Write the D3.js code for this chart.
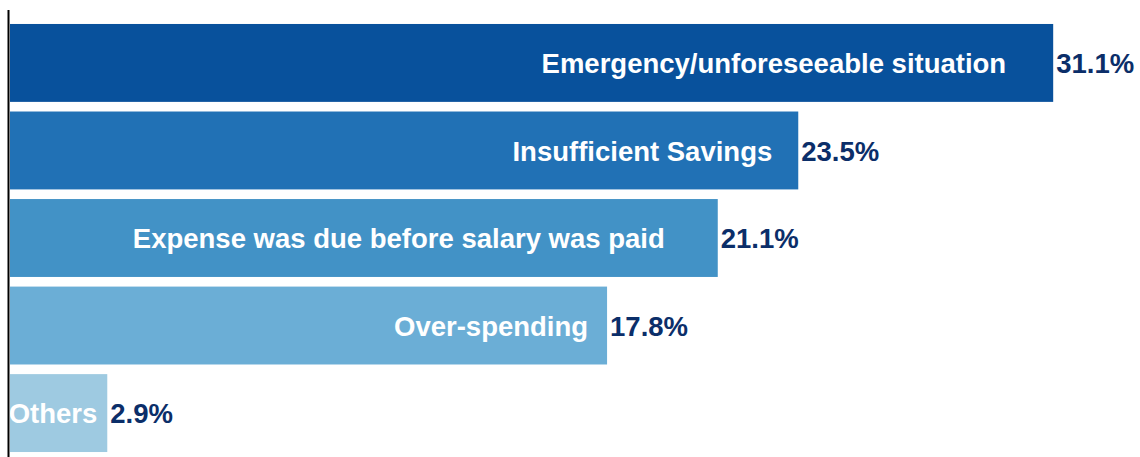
<!DOCTYPE html>
<html>
<head>
<meta charset="utf-8">
<script src="https://cdn.jsdelivr.net/npm/d3@7"></script>
<style>
  body { margin: 0; background: #fff; }
  svg text { font-family: "Liberation Sans", Arial, sans-serif; font-weight: bold; }
</style>
</head>
<body>
<div id="chart"></div>
<script>
// reasons, share of respondents (%)
const reasons = [
    "Emergency/unforeseeable situation",
    "Insufficient Savings",
    "Expense was due before salary was paid",
    "Over-spending",
    "Others"
];
const shares = [31.1, 23.5, 21.1, 17.8, 2.9];
const barColors = ["#08519c", "#2171b5", "#4292c6", "#6baed6", "#9ecae1"];
// how far each inside label sits from the bar's end
const labelInset = [47, 26, 53, 19, 10];

function drawBars() {
    let width = 1140, height = 457;
    let margin = {top: 19.6, right: 10, bottom: 0.6, left: 10};

    let svg = d3.select("#chart").append("svg")
        .attr("width", width)
        .attr("height", height);

    let x = d3.scaleLinear()
        .domain([0, 33.39])
        .range([margin.left, width - margin.right]);

    let y = d3.scaleBand()
        .domain(reasons)
        .range([margin.top, height - margin.bottom])
        .paddingInner(0.11)
        .paddingOuter(0.05);

    let data = reasons.map(function(r, i) {
        return {name: r, value: shares[i], color: barColors[i], inset: labelInset[i]};
    });

    let rows = svg.selectAll(".bar")
        .data(data)
        .enter().append("g")
        .attr("class", "bar");

    rows.append("rect")
        .attr("x", x(0))
        .attr("y", function(d) { return y(d.name); })
        .attr("width", function(d) { return x(d.value) - x(0); })
        .attr("height", y.bandwidth())
        .style("fill", function(d) { return d.color; });

    rows.append("text")
        .attr("x", function(d) { return x(d.value) - d.inset; })
        .attr("y", function(d) { return y(d.name) + y.bandwidth() / 2; })
        .attr("dy", "0.37em")
        .style("text-anchor", "end")
        .style("font-size", "27.5px")
        .style("fill", "#ffffff")
        .text(function(d) { return d.name; });

    rows.append("text")
        .attr("x", function(d) { return x(d.value) + 3; })
        .attr("y", function(d) { return y(d.name) + y.bandwidth() / 2; })
        .attr("dy", "0.37em")
        .style("font-size", "27.5px")
        .style("fill", "#0b2e69")
        .text(function(d) { return d3.format(".1f")(d.value) + "%"; });

    // vertical axis line
    svg.append("line")
        .attr("x1", 8.5).attr("x2", 8.5)
        .attr("y1", 10).attr("y2", height)
        .style("stroke", "#000")
        .style("stroke-width", 2);
}

drawBars();
</script>
</body>
</html>
